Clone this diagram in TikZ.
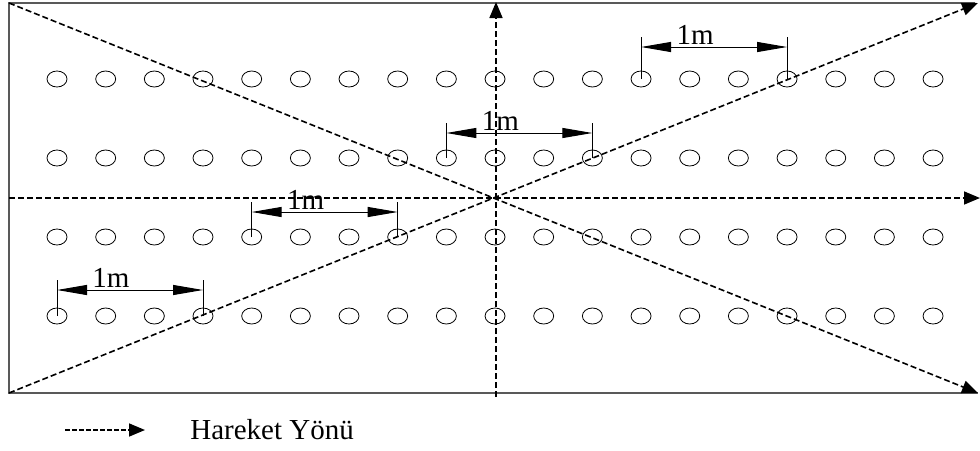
\documentclass[tikz,border=0pt]{standalone}
\usepackage{fontspec}
\setmainfont{Liberation Serif}
\usetikzlibrary{shapes.geometric, arrows.meta, positioning}

\begin{document}
\begin{tikzpicture}[
    x=0.5pt, y=-0.5pt,
    hole/.style={ellipse, draw, line width=0.4pt, minimum width=10pt, minimum height=8pt, inner sep=0pt},
    axis/.style={-{Triangle[length=8pt,width=6.5pt]}, dash pattern=on 3pt off 1.5pt, line width=0.8pt},
    dim/.style={{Triangle[length=15pt,width=5pt]}-{Triangle[length=15pt,width=5pt]}, line width=0.5pt},
    tick/.style={line width=0.4pt},
    lbl/.style={font=\fontsize{14.5}{14.5}\selectfont, inner sep=0pt, anchor=base, yshift=1.5pt}
]
\useasboundingbox (0,0) rectangle (980,450);
\draw[gray!70!black, line width=0.8pt] (975,3) -- (9,3) -- (9,393) -- (978,393);

% holes
\foreach \r/\y in {1/79,2/158,3/237,4/316}
  \foreach \c in {0,...,18}
    \node[hole] (h\r-\c) at ({57+\c*48.67},\y) {};

% axes
\coordinate (tl) at (9,3);
\coordinate (bl) at (9,393);
\coordinate (tr) at (978,3);
\coordinate (br) at (978,393);
\coordinate (lm) at (9,198);
\coordinate (rm) at (980,198);
\coordinate (bm) at (496,397);
\coordinate (tm) at (496,2);
\draw [axis] (tl) -- (br);
\draw [axis] (bl) -- (tr);
\draw [axis] (lm) -- (rm);
\draw [axis] (bm) -- (tm);

% dimensions
\foreach \r/\a/\b/\h in {1/12/15/16, 2/8/11/12.5, 3/4/7/12.5, 4/0/3/13}{
  \draw [tick] (h\r-\a.center) -- ++(0,-2*\h-10);
  \draw [tick] (h\r-\b.center) -- ++(0,-2*\h-10);
  \draw [dim] ([yshift=\h pt]h\r-\a.center) -- node[lbl, pos=0.37] {1m} ([yshift=\h pt]h\r-\b.center);
}

% legend
\coordinate (legA) at (65,430);
\coordinate (legB) at (145,430);
\node (legtxt) [right, font=\fontsize{14.5}{14.5}\selectfont, inner sep=0pt] at (190,430) {Hareket Yönü};
\draw [axis, dash pattern=on 2.5pt off 1pt] (legA) -- (legB);
\end{tikzpicture}
\end{document}
